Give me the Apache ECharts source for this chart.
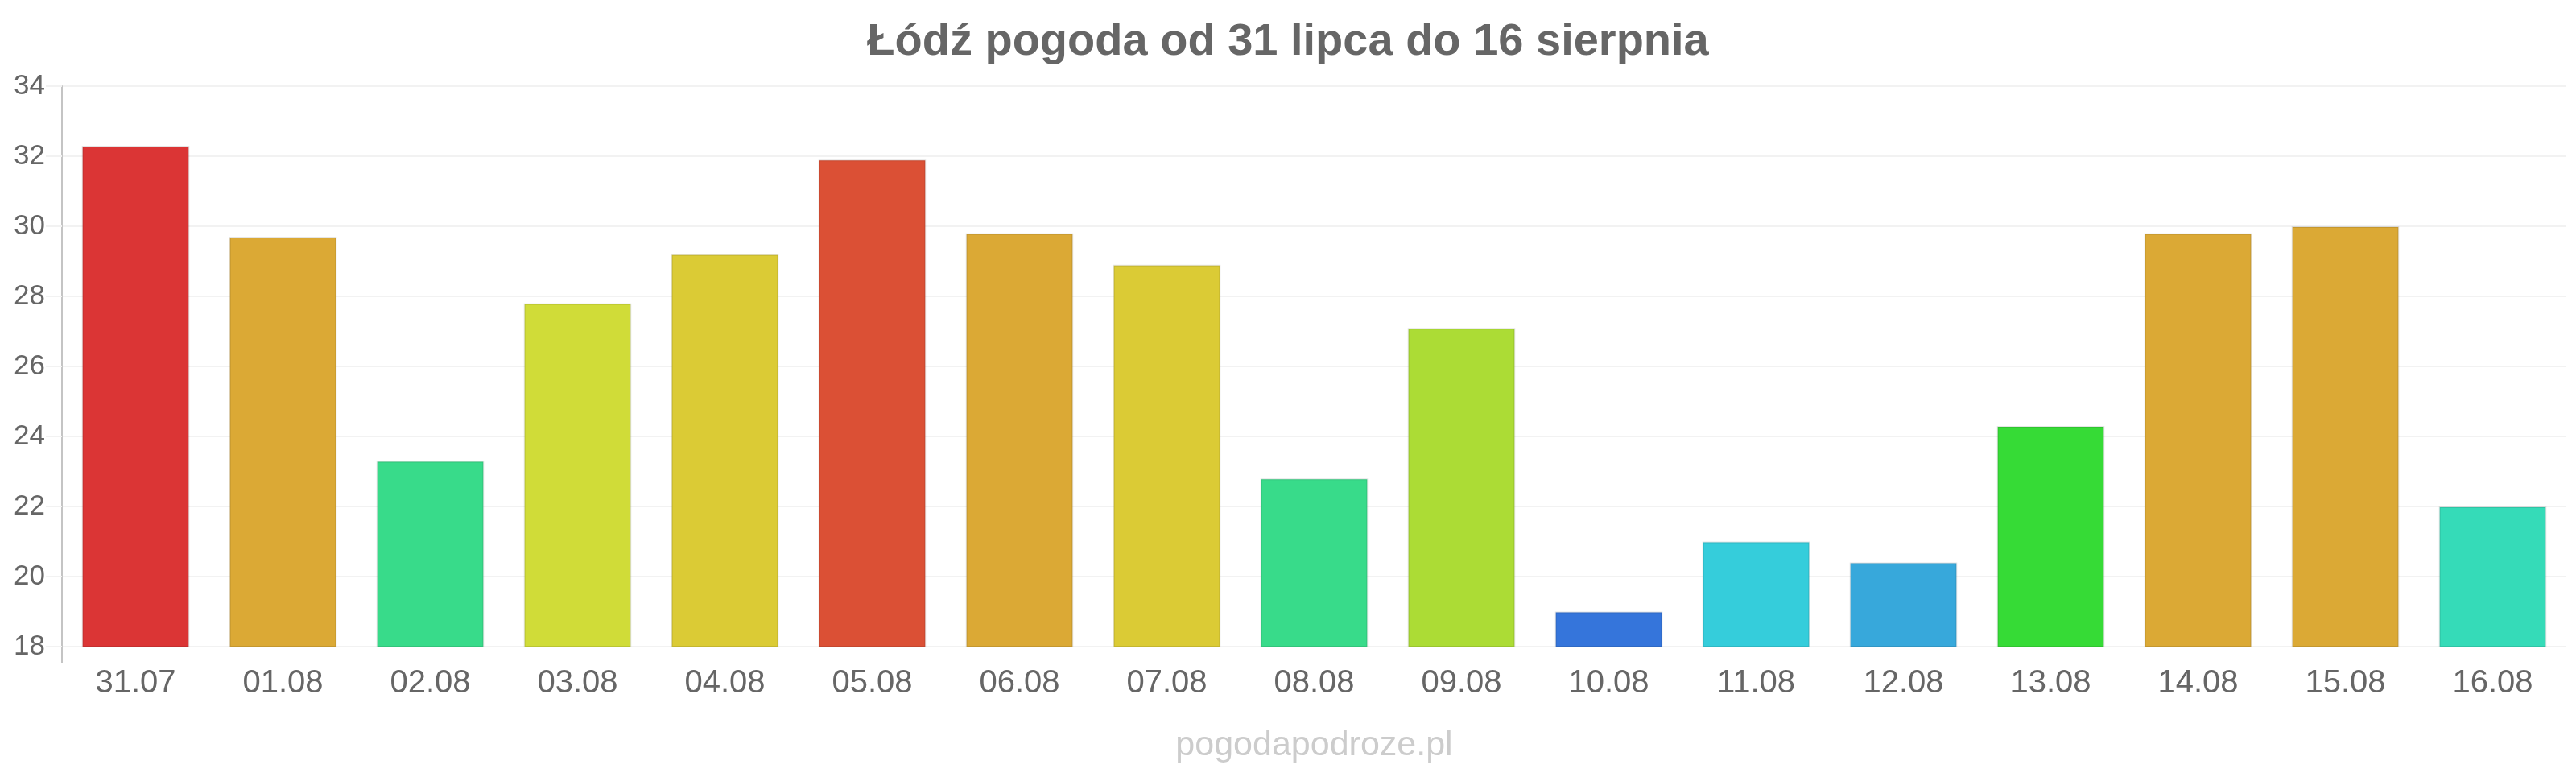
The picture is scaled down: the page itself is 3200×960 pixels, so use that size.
<!DOCTYPE html>
<html>
<head>
<meta charset="utf-8">
<title>Łódź pogoda</title>
<script src="https://cdn.jsdelivr.net/npm/echarts@6/dist/echarts.min.js"></script>
<style>
html,body{margin:0;padding:0;background:#fff;}
#div_pogoda{width:3200px;height:960px;}
</style>
</head>
<body>
<div id="div_pogoda"></div>
<script>
// dni i temperatury
var dni = ['31.07','01.08','02.08','03.08','04.08','05.08','06.08','07.08','08.08','09.08','10.08','11.08','12.08','13.08','14.08','15.08','16.08'];
var temperatury = [32.3, 29.7, 23.3, 27.8, 29.2, 31.9, 29.8, 28.9, 22.8, 27.1, 19.0, 21.0, 20.4, 24.3, 29.8, 30.0, 22.0];
var kolory = ['#DB3535','#DBA935','#38DB8A','#D0DC38','#DBCB35','#DB5035','#DBA935','#DBCB35','#38DB8A','#ACDC35','#3575DB','#35CDDB','#37A8DB','#36DB36','#DBA935','#DBA935','#35DBB8'];
var osY = {min: 18, max: 34, krok: 2};

function wykres(){
	var el = document.getElementById('div_pogoda');
	var myChart = echarts.init(el);
	var siatka = {left: 77, right: 12, top: 107, bottom: 157};
	// środek obszaru wykresu (dla podpisu na dole)
	var srodek = siatka.left + (el.clientWidth - siatka.left - siatka.right) / 2;
	var dane = [];
	for (var i = 0; i < temperatury.length; i++) {
		dane.push({value: temperatury[i], itemStyle: {color: kolory[i]}});
	}
	var option = {
		animation: false,
		textStyle: {fontFamily: '"Liberation Sans", Arial, sans-serif'},
		title: [
			{
				text: 'Łódź pogoda od 31 lipca do 16 sierpnia',
				left: 'center',
				top: 25,
				padding: 0,
				textStyle: {fontSize: 56, fontWeight: 'bold', color: '#666666', lineHeight: 56}
			},
			{
				text: 'pogodapodroze.pl',
				left: srodek,
				textAlign: 'center',
				top: 905,
				padding: 0,
				textStyle: {fontSize: 43, fontWeight: 'normal', color: '#cccccc', lineHeight: 43}
			}
		],
		grid: siatka,
		xAxis: {
			type: 'category',
			data: dni,
			axisLine: {show: false},
			axisTick: {show: false},
			axisLabel: {fontSize: 40, color: '#666666', margin: 26}
		},
		yAxis: {
			type: 'value',
			min: osY.min,
			max: osY.max,
			interval: osY.krok,
			axisLine: {show: true, lineStyle: {color: '#c4c4c4', width: 2}},
			axisTick: {show: true, length: 20, lineStyle: {color: '#f2f2f2', width: 2}},
			axisLabel: {fontSize: 35, color: '#666666', margin: 21},
			splitLine: {lineStyle: {color: '#f2f2f2', width: 2}}
		},
		series: [
			{
				type: 'bar',
				data: dane,
				barCategoryGap: '27%',
				itemStyle: {borderColor: 'rgba(0,0,0,0.10)', borderWidth: 2}
			}
		]
	};
	myChart.setOption(option);

	// przedłużenie osi Y poniżej wartości minimalnej
	var dol = myChart.convertToPixel({yAxisIndex: 0}, osY.min);
	var xOs = myChart.getModel().getComponent('grid', 0).coordinateSystem.getRect().x;
	myChart.setOption({
		graphic: [{
			type: 'line',
			shape: {x1: xOs, y1: dol, x2: xOs, y2: dol + 20},
			style: {stroke: '#c4c4c4', lineWidth: 2},
			silent: true
		}]
	});
	window.onresize = myChart.resize;
}
wykres();
</script>
</body>
</html>
